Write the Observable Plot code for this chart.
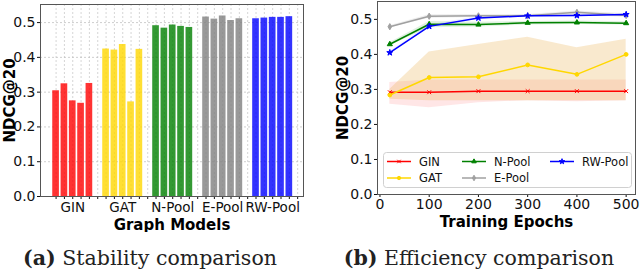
<!DOCTYPE html>
<html>
<head>
<meta charset="utf-8">
<script src="https://cdn.jsdelivr.net/npm/d3@7"></script>
<script src="https://cdn.jsdelivr.net/npm/@observablehq/plot@0.6"></script>
<style>
  html, body { margin: 0; padding: 0; background: #fff; }
  #wrap { position: relative; width: 640px; height: 275px; overflow: hidden; font-family: "DejaVu Sans", sans-serif; }
  #left, #right { position: absolute; top: 0; }
  #left { left: 0; }
  #right { left: 320px; }
  svg [aria-label$="-axis label"] text, svg [aria-label$="-axis label"] { font-weight: bold; font-size: 15px; fill: #000; }
  .cap { position: absolute; top: 246px; font-family: "DejaVu Serif", serif; font-size: 20.5px; white-space: nowrap; transform: translateX(-50%); color: #222; }
  .cap b { font-weight: bold; }
  #legend { position: absolute; left: 383px; top: 152px; }
</style>
</head>
<body>
<div id="wrap">
  <div id="left"></div>
  <div id="right"></div>
  <div id="legend"></div>
  <div class="cap" style="left:150px"><b>(a)</b> Stability comparison</div>
  <div class="cap" style="left:479px"><b>(b)</b> Efficiency comparison</div>
</div>
<script>
// ---------- data ----------
const models = ["GIN", "GAT", "N-Pool", "E-Pool", "RW-Pool"];
const barColors = ["#ff0000", "#ffd700", "#008000", "#808080", "#0000ff"];
const lineColors = ["#ff0000", "#ffd700", "#008000", "#a0a0a0", "#0000ff"];
const symbols = ["times", "circle", "triangle", "diamond", "star"];

// (a) stability: five runs per model
const ginRuns = [0.304, 0.324, 0.275, 0.268, 0.325];
const gatRuns = [0.424, 0.421, 0.437, 0.272, 0.423];
const nPoolRuns = [0.491, 0.484, 0.493, 0.489, 0.486];
const ePoolRuns = [0.516, 0.510, 0.519, 0.506, 0.511];
const rwPoolRuns = [0.511, 0.513, 0.515, 0.515, 0.517];
const yTicks = [0, 0.1, 0.2, 0.3, 0.4, 0.5];

// (b) efficiency
const epochs = [20, 100, 200, 300, 400, 500];
const xTicks = [0, 100, 200, 300, 400, 500];
const ginMean = [0.292, 0.292, 0.295, 0.295, 0.295, 0.295];
const gatMean = [0.284, 0.334, 0.336, 0.370, 0.343, 0.400];
const nPoolMean = [0.429, 0.486, 0.485, 0.490, 0.491, 0.489];
const ePoolMean = [0.479, 0.509, 0.510, 0.510, 0.520, 0.511];
const rwPoolMean = [0.405, 0.480, 0.504, 0.510, 0.511, 0.514];

const ginLow = [0.258, 0.248, 0.262, 0.268, 0.265, 0.268];
const ginHigh = [0.320, 0.327, 0.327, 0.327, 0.327, 0.327];
const gatLow = [0.272, 0.268, 0.268, 0.268, 0.268, 0.268];
const gatHigh = [0.300, 0.407, 0.428, 0.449, 0.419, 0.443];
const nPoolLow = [0.425, 0.476, 0.478, 0.484, 0.485, 0.484];
const nPoolHigh = [0.433, 0.494, 0.492, 0.494, 0.495, 0.493];
const ePoolLow = [0.476, 0.503, 0.505, 0.505, 0.512, 0.506];
const ePoolHigh = [0.482, 0.513, 0.514, 0.514, 0.524, 0.516];
const rwPoolLow = [0.402, 0.476, 0.500, 0.507, 0.508, 0.511];
const rwPoolHigh = [0.408, 0.484, 0.508, 0.513, 0.514, 0.517];

// ---------- tables ----------
const runs = [ginRuns, gatRuns, nPoolRuns, ePoolRuns, rwPoolRuns];
const slotsPerGroup = 6;
const barRows = [];
runs.forEach((vals, g) => vals.forEach((v, i) => barRows.push({model: models[g], p: g * slotsPerGroup + i, v})));
const slots = d3.range(models.length * slotsPerGroup);
const groupCenters = models.map((m, g) => g * slotsPerGroup + 2);

const means = [ginMean, gatMean, nPoolMean, ePoolMean, rwPoolMean];
const lows = [ginLow, gatLow, nPoolLow, ePoolLow, rwPoolLow];
const highs = [ginHigh, gatHigh, nPoolHigh, ePoolHigh, rwPoolHigh];
const lineRows = [];
const bandRows = [];
models.forEach((m, k) => epochs.forEach((e, j) => {
  lineRows.push({model: m, epoch: e, v: means[k][j]});
  bandRows.push({model: m, epoch: e, lo: lows[k][j], hi: highs[k][j]});
}));
const bandFill = {"GIN": "#ff3030", "GAT": "#e8b050", "N-Pool": "#30a030", "E-Pool": "#a0a0a0", "RW-Pool": "#3050ff"};
const bandOpacity = {"GIN": 0.12, "GAT": 0.28, "N-Pool": 0.15, "E-Pool": 0.18, "RW-Pool": 0.08};

// ---------- (a) ----------
const left = Plot.plot({
  width: 320, height: 232,
  marginLeft: 40, marginRight: 17, marginTop: 4, marginBottom: 36,
  style: {fontFamily: "DejaVu Sans", fontSize: "13px", background: "transparent", color: "#111"},
  x: {type: "linear", domain: [-1.87, 29.7]},
  y: {domain: [0, 0.552]},
  color: {domain: models, range: barColors},
  marks: [
    Plot.ruleX(slots, {x: d => d, stroke: "#bbb", strokeOpacity: 0.6, strokeDasharray: "2,2"}),
    Plot.ruleY(yTicks, {y: d => d, stroke: "#bbb", strokeOpacity: 0.7, strokeDasharray: "2,2"}),
    Plot.rect(barRows, {x1: d => d.p - 0.4, x2: d => d.p + 0.4, y1: 0, y2: "v", fill: "model", fillOpacity: 0.8}),
    Plot.axisY({ticks: yTicks, tickFormat: d3.format(".1f"), tickSize: 3, fontSize: 14, tickPadding: 2,
      label: "NDCG@20", labelAnchor: "center", labelArrow: "none", labelOffset: 36}),
    Plot.axisX({ticks: slots, tickFormat: () => "", tickSize: 3}),
    Plot.axisX({ticks: groupCenters, tickFormat: p => models[Math.round((p - 2) / slotsPerGroup)], tickSize: 0, fontSize: 13.5, tickPadding: 6,
      label: "Graph Models", labelAnchor: "center", labelArrow: "none", labelOffset: 33}),
    Plot.frame({stroke: "#555"})
  ]
});
document.getElementById("left").append(left);

// ---------- (b) ----------
const right = Plot.plot({
  width: 320, height: 232,
  marginLeft: 57, marginRight: 5, marginTop: 1, marginBottom: 38,
  style: {fontFamily: "DejaVu Sans", fontSize: "14px", background: "transparent", color: "#111"},
  x: {domain: [-5, 519]},
  y: {domain: [0, 0.551]},
  color: {domain: models, range: lineColors},
  symbol: {domain: models, range: symbols},
  marks: [
    ...models.map(m => Plot.areaY(bandRows.filter(d => d.model === m), {x: "epoch", y1: "lo", y2: "hi", fill: bandFill[m], fillOpacity: bandOpacity[m]})),
    Plot.lineY(lineRows, {x: "epoch", y: "v", z: "model", stroke: "model", strokeWidth: 1.5}),
    Plot.dot(lineRows, {x: "epoch", y: "v", symbol: "model", stroke: "model", fill: "model", r: 1.9, strokeWidth: 1}),
    Plot.axisY({ticks: yTicks, tickFormat: d3.format(".1f"), tickSize: 3, fontSize: 14, tickPadding: 2,
      label: "NDCG@20", labelAnchor: "center", labelArrow: "none", labelOffset: 40}),
    Plot.axisX({ticks: xTicks, tickFormat: d3.format("d"), tickSize: 3, fontSize: 14, tickPadding: 2,
      label: "Training Epochs", labelAnchor: "center", labelArrow: "none", labelOffset: 32}),
    Plot.frame({stroke: "#555"})
  ]
});
document.getElementById("right").append(right);

// ---------- legend ----------
const legW = 249, legH = 36;
const leg = d3.select("#legend").append("svg").attr("width", legW).attr("height", legH)
  .style("font-family", "DejaVu Sans").style("font-size", "11.5px");
leg.append("rect").attr("x", 0.5).attr("y", 0.5).attr("width", legW - 1).attr("height", legH - 1)
  .attr("rx", 3).attr("fill", "rgba(255,255,255,0.85)").attr("stroke", "#d0d0d0");
const legCols = [4, 79, 167];
const legRows = [9.5, 26];
const symMap = {times: d3.symbolTimes, circle: d3.symbolCircle, triangle: d3.symbolTriangle, diamond: d3.symbolDiamond, star: d3.symbolStar};
models.forEach((m, k) => {
  const col = Math.floor(k / 2), row = k % 2;
  const x0 = legCols[col], y0 = legRows[row];
  const g = leg.append("g");
  g.append("line").attr("x1", x0).attr("x2", x0 + 24).attr("y1", y0).attr("y2", y0)
    .attr("stroke", lineColors[k]).attr("stroke-width", 1.5);
  g.append("path").attr("transform", `translate(${x0 + 12},${y0})`)
    .attr("d", d3.symbol(symMap[symbols[k]], 9)())
    .attr("fill", lineColors[k]).attr("stroke", lineColors[k]).attr("stroke-width", 1);
  g.append("text").attr("x", x0 + 32).attr("y", y0).attr("dy", "0.35em").attr("fill", "#111").text(m);
});
</script>
</body>
</html>
